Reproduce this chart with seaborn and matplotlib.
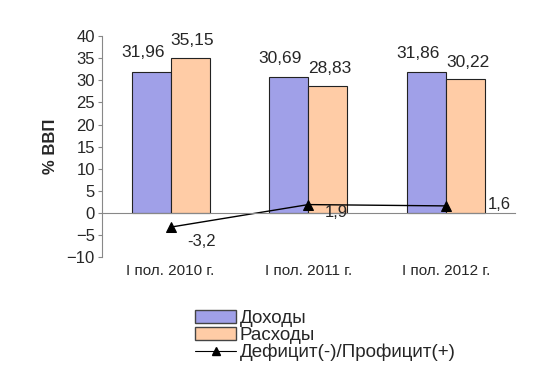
import pandas as pd
import seaborn as sns
import matplotlib.pyplot as plt
from matplotlib.patches import Patch
from matplotlib.lines import Line2D

periods = ['I пол. 2010 г.', 'I пол. 2011 г.', 'I пол. 2012 г.']
revenues = [31.96, 30.69, 31.86]
expenses = [35.15, 28.83, 30.22]
balance = [-3.2, 1.9, 1.6]
series_names = ['Доходы', 'Расходы', 'Дефицит(-)/Профицит(+)']

def fmt(v):
    return ('%g' % v).replace('.', ',')

sns.set_style('white')
plt.rcParams['font.family'] = ['Liberation Sans', 'DejaVu Sans']

df = pd.DataFrame({
    'period': periods * 2,
    'value': revenues + expenses,
    'series': [series_names[0]] * 3 + [series_names[1]] * 3,
})
bar_colors = ['#A0A0E8', '#FFCCA6']

fig = plt.figure(figsize=(5.53, 3.85), dpi=100)
ax = fig.add_axes([0.184, 0.332, 0.747, 0.574])

sns.barplot(data=df, x='period', y='value', hue='series', palette=bar_colors,
            saturation=1, width=0.567, gap=0, edgecolor='#222222', linewidth=0.8,
            legend=False, ax=ax)

# подписи над столбцами (как в Excel, первая серия чуть левее)
label_shift = [(-6, 13.5), (1.5, 12.5)]
for k, cont in enumerate(ax.containers):
    for bar, v in zip(cont, cont.datavalues):
        ax.annotate(fmt(v), (bar.get_x() + bar.get_width() / 2, v),
                    xytext=label_shift[k], textcoords='offset points',
                    ha='center', va='center', fontsize=12.5)

sns.pointplot(x=periods, y=balance, color='black', marker='^', markersize=7,
              linewidth=1, ax=ax)

# подписи дефицита
offsets = [(22, -10), (20, -6), (38, 1)]
for i, v in enumerate(balance):
    ax.annotate(fmt(v), (i, v), xytext=offsets[i], textcoords='offset points',
                ha='center', va='center', fontsize=12)

ax.set_ylim(-10, 40)
ax.set_xlim(-0.5, 2.5)
ax.set_yticks(range(-10, 41, 5))
ax.set_ylabel('% ВВП', fontsize=12, fontweight='bold', labelpad=6)
ax.set_xlabel('')

for s in ['top', 'right']:
    ax.spines[s].set_visible(False)
ax.spines['left'].set_color('#888888')
ax.spines['bottom'].set_color('#888888')
ax.spines['bottom'].set_position(('data', 0))
ax.set_xticks([0.5, 1.5], minor=True)
ax.tick_params(axis='x', which='major', length=0, pad=37, labelsize=11)
ax.tick_params(axis='x', which='minor', length=4, color='#888888', direction='out')
ax.tick_params(axis='y', length=3, color='#888888', labelsize=12, left=True, pad=2)

handles = [Patch(facecolor=bar_colors[0], edgecolor='#444444'),
           Patch(facecolor=bar_colors[1], edgecolor='#444444'),
           Line2D([], [], color='black', marker='^', markersize=6, linewidth=0.8)]
fig.legend(handles, series_names, loc='upper left', bbox_to_anchor=(0.339, 0.215),
           frameon=False, fontsize=13.5, handlelength=2.2, handleheight=0.7,
           handletextpad=0.2, labelspacing=0.0, borderaxespad=0)

fig.savefig('out.png', dpi=100)
